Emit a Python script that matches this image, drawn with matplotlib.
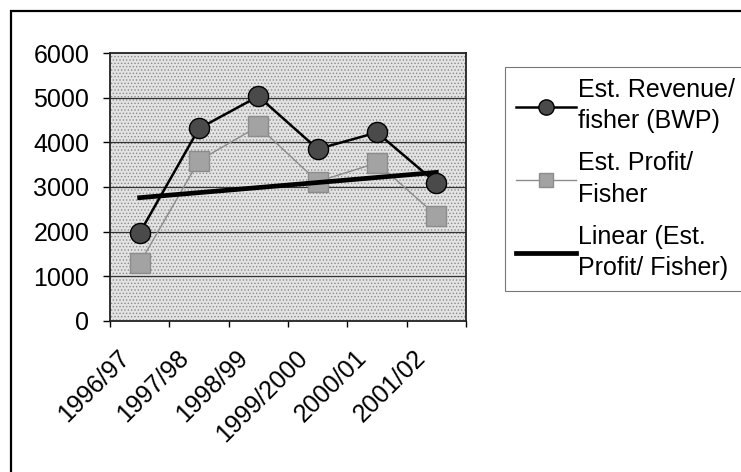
import numpy as np
import matplotlib.pyplot as plt
from matplotlib.patches import Rectangle
from matplotlib.lines import Line2D
from matplotlib.transforms import ScaledTranslation

plt.rcParams['font.family'] = ['Liberation Sans', 'DejaVu Sans']
plt.rcParams['hatch.linewidth'] = 0.6

# data
years = ['1996/97', '1997/98', '1998/99', '1999/2000', '2000/01', '2001/02']
revenue = [1970, 4310, 5030, 3850, 4220, 3090]
profit = [1290, 3590, 4360, 3120, 3540, 2360]
yticks = [0, 1000, 2000, 3000, 4000, 5000, 6000]

FS = 18

fig = plt.figure(figsize=(7.41, 4.72), dpi=100)
ax = fig.add_axes([0.1484, 0.32, 0.4805, 0.5677])

x = np.arange(len(years))

# stippled grey plot area like the scanned excel chart
ax.patch.set_facecolor('#e3e3e3')
ax.add_patch(Rectangle((0, 0), 1, 1, transform=ax.transAxes, facecolor='none',
                       hatch='.....', edgecolor='#8a8a8a', lw=0, zorder=0))

for v in yticks[1:-1]:
    ax.axhline(v, color='#333333', lw=0.9, zorder=1)

ax.plot(x, profit, color='#8c8c8c', lw=1.0, marker='s', markersize=15,
        markerfacecolor='#a3a3a3', markeredgecolor='#8c8c8c', zorder=3)

# linear trend of profit
coef = np.polyfit(x, profit, 1)
ax.plot(x, np.polyval(coef, x), color='black', lw=3.4, zorder=4)

ax.plot(x, revenue, color='black', lw=1.8, marker='o', markersize=14.5,
        markerfacecolor='#4a4a4a', markeredgecolor='black', zorder=5)

ax.set_xlim(-0.5, len(years) - 0.5)
ax.set_ylim(0, 6000)
ax.set_yticks(yticks)
ax.set_yticklabels([str(v) for v in yticks], fontsize=FS)
ax.tick_params(axis='y', length=5, width=1, pad=10)

ax.set_xticks(np.arange(len(years) + 1) - 0.5)
ax.set_xticklabels([])
ax.set_xticks(x, minor=True)
ax.set_xticklabels(years, minor=True, rotation=45, ha='right', va='center',
                   rotation_mode='anchor', fontsize=FS)
ax.tick_params(axis='x', which='major', length=4, width=1)
ax.tick_params(axis='x', which='minor', length=0, pad=24)
shift = ScaledTranslation(-0.14, 0, fig.dpi_scale_trans)
for lab in ax.get_xticklabels(minor=True):
    lab.set_transform(lab.get_transform() + shift)

for s in ax.spines.values():
    s.set_color('#222222')
    s.set_linewidth(1.3)

handles = [
    Line2D([], [], color='black', lw=1.8, marker='o', markersize=11,
           markerfacecolor='#4a4a4a', markeredgecolor='black'),
    Line2D([], [], color='#8c8c8c', lw=1.0, marker='s', markersize=10,
           markerfacecolor='#a3a3a3', markeredgecolor='#8c8c8c'),
    Line2D([], [], color='black', lw=3.4),
]
labels = ['Est. Revenue/\nfisher (BWP)', 'Est. Profit/\nFisher',
          'Linear (Est.\nProfit/ Fisher)']
leg = fig.legend(handles, labels, loc='upper left',
                 bbox_to_anchor=(0.681, 0.858), fontsize=FS,
                 frameon=True, fancybox=False, handlelength=2.4,
                 handletextpad=0.1, labelspacing=0.72, borderpad=0.45,
                 borderaxespad=0)
leg.get_frame().set_edgecolor('#555555')
leg.get_frame().set_linewidth(0.8)
for t in leg.get_texts():
    t.set_linespacing(1.38)

# outer chart frame
fig.patches.append(Rectangle((0.015, -0.02), 1.0, 0.997, transform=fig.transFigure,
                             facecolor='none', edgecolor='black', lw=1.6))

fig.savefig('out.png', dpi=100)
